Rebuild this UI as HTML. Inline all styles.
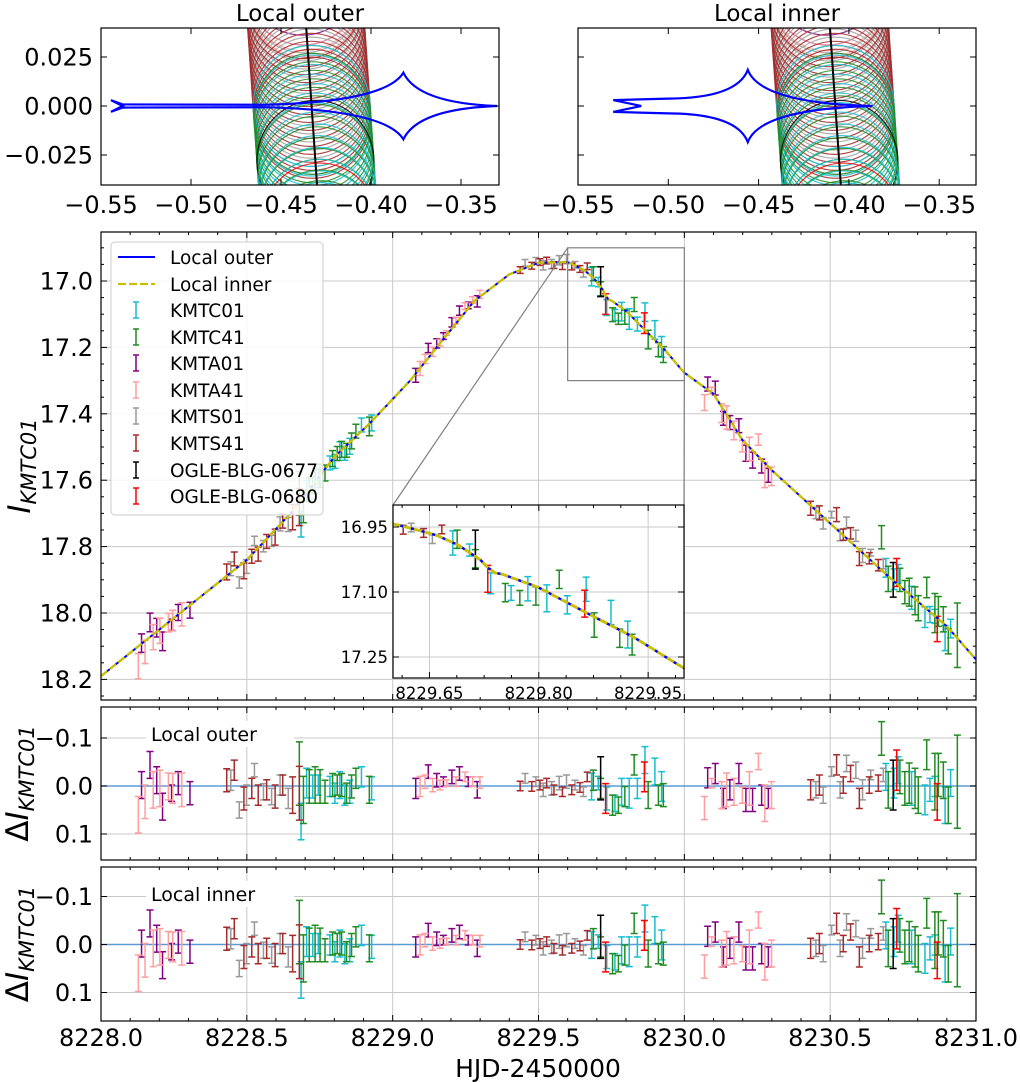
<!DOCTYPE html>
<html><head><meta charset="utf-8"><style>
html,body{margin:0;padding:0;background:#fff}
svg{display:block;font-family:"DejaVu Sans","Liberation Sans",sans-serif}
</style></head><body>
<svg id="fig" width="1020" height="1082" viewBox="0 0 1020 1082" xmlns="http://www.w3.org/2000/svg">
<defs>
<clipPath id="clipL"><rect x="101" y="28" width="398" height="157"/></clipPath>
<clipPath id="clipR"><rect x="578" y="28" width="398" height="157"/></clipPath>
<clipPath id="clipM"><rect x="101" y="232" width="875" height="468"/></clipPath>
<clipPath id="clipI"><rect x="393" y="505" width="291" height="173"/></clipPath>
<clipPath id="clipR1"><rect x="101" y="707" width="875" height="153"/></clipPath>
<clipPath id="clipR2"><rect x="101" y="867" width="875" height="154"/></clipPath>
</defs>
</svg>
<script>
// ---- data ----
const modelT=[8228.0,8228.2,8228.5,8228.65,8228.8,8228.92,8229.06,8229.16,8229.28,8229.4,8229.5,8229.602,8229.658,8229.689,8229.726,8229.734,8229.75,8229.799,8229.863,8229.932,8229.998,8230.1,8230.2,8230.3,8230.5,8230.7,8230.9,8231.0];
const modelM=[18.19,18.05,17.84,17.70,17.53,17.43,17.30,17.19,17.06,16.98,16.945,16.943,16.968,16.991,17.033,17.054,17.059,17.089,17.146,17.206,17.275,17.34,17.48,17.57,17.73,17.89,18.04,18.14];

const c01T=[8228.686,8228.705,8228.726,8228.745,8228.785,8228.802,8228.819,8228.836,8228.853,8228.893,8228.928,8229.682,8229.705,8229.734,8229.762,8229.785,8229.811,8229.839,8229.865,8229.899,8229.922,8230.691,8230.719,8230.733,8230.779,8230.825,8230.842,8230.859,8230.894,8230.913];
const c01R=[0.074,-0.006,0.001,-0.002,0.001,0.015,-0.002,0.019,0.012,-0.019,0.005,0.001,-0.006,0.026,0.036,0.012,0.015,0.005,-0.054,-0.030,0.001,-0.019,-0.006,-0.033,0.005,0.029,0.008,0.001,0.040,-0.006];
const c01E=[0.038,0.031,0.024,0.021,0.021,0.021,0.028,0.021,0.024,0.021,0.024,0.028,0.014,0.024,0.017,0.028,0.031,0.021,0.028,0.028,0.031,0.028,0.031,0.028,0.035,0.031,0.024,0.021,0.038,0.028];

const c41T=[8228.680,8228.694,8228.714,8228.734,8228.751,8228.768,8228.794,8228.810,8228.825,8228.842,8228.859,8228.874,8228.920,8229.688,8229.713,8229.754,8229.774,8229.796,8229.828,8229.876,8229.911,8229.928,8230.676,8230.699,8230.739,8230.756,8230.771,8230.791,8230.802,8230.831,8230.859,8230.871,8230.888,8230.905,8230.936];
const c41R=[-0.026,0.029,0.001,-0.002,0.001,0.012,-0.002,-0.002,-0.002,0.015,0.001,-0.016,0.008,-0.012,0.005,0.040,0.040,0.022,-0.044,0.019,0.019,0.019,-0.099,0.008,-0.019,0.005,-0.006,0.005,0.019,-0.065,-0.009,-0.023,-0.012,0.040,-0.009];
const c41E=[0.066,0.049,0.035,0.038,0.035,0.024,0.024,0.021,0.024,0.021,0.024,0.021,0.028,0.021,0.021,0.021,0.017,0.021,0.021,0.028,0.021,0.024,0.035,0.038,0.035,0.035,0.042,0.042,0.038,0.031,0.059,0.045,0.038,0.038,0.097];

const a01T=[8228.139,8228.168,8228.191,8228.211,8228.242,8228.265,8228.305,8229.079,8229.122,8229.151,8229.174,8229.203,8229.229,8229.259,8229.290,8230.080,8230.106,8230.134,8230.156,8230.187,8230.211,8230.234,8230.265,8230.288];
const a01R=[-0.002,-0.044,-0.012,0.043,0.015,-0.006,0.015,0.005,-0.030,-0.012,-0.009,-0.019,-0.026,-0.009,0.008,-0.017,-0.026,0.026,0.008,-0.026,0.029,0.029,0.019,0.026];
const a01E=[0.028,0.028,0.028,0.028,0.017,0.024,0.024,0.021,0.014,0.014,0.010,0.014,0.014,0.010,0.017,0.021,0.021,0.021,0.021,0.021,0.024,0.024,0.021,0.021];

const a41T=[8228.128,8228.151,8228.179,8228.202,8228.231,8228.246,8228.277,8229.094,8229.111,8229.137,8229.162,8229.185,8229.217,8229.248,8229.274,8229.299,8230.069,8230.094,8230.128,8230.145,8230.170,8230.199,8230.223,8230.254,8230.276,8230.299];
const a41R=[0.060,0.033,0.008,0.005,0.001,0.005,0.008,0.001,-0.009,-0.002,-0.002,-0.006,-0.009,-0.019,-0.009,-0.007,0.046,-0.006,0.019,0.008,0.012,0.019,0.005,-0.051,0.036,0.019];
const a41E=[0.038,0.035,0.038,0.038,0.028,0.031,0.035,0.021,0.014,0.014,0.010,0.007,0.010,0.010,0.010,0.012,0.024,0.010,0.028,0.035,0.028,0.017,0.035,0.017,0.038,0.028];

const s01T=[8228.445,8228.474,8228.499,8228.526,8228.557,8228.585,8228.614,8228.642,8229.454,8229.491,8229.516,8229.545,8229.571,8229.596,8229.625,8229.654,8230.451,8230.476,8230.505,8230.534,8230.556,8230.588,8230.611,8230.639,8230.682];
const s01R=[-0.012,0.050,0.019,-0.033,0.012,0.022,-0.002,0.026,-0.016,-0.009,0.008,0.005,-0.006,-0.009,-0.002,0.012,0.008,0.019,-0.030,0.008,-0.047,-0.033,0.008,-0.023,-0.023];
const s01E=[0.021,0.017,0.021,0.014,0.017,0.017,0.021,0.021,0.010,0.010,0.014,0.014,0.014,0.014,0.010,0.010,0.017,0.017,0.010,0.017,0.017,0.017,0.021,0.010,0.014];

const s41T=[8228.431,8228.457,8228.490,8228.517,8228.539,8228.568,8228.597,8228.623,8228.657,8228.680,8229.437,8229.477,8229.505,8229.528,8229.553,8229.582,8229.614,8229.642,8229.667,8230.433,8230.463,8230.522,8230.545,8230.570,8230.600,8230.634,8230.665];
const s41R=[-0.012,-0.033,0.026,0.005,0.019,0.008,0.022,-0.002,0.019,0.015,0.000,0.001,-0.002,-0.006,0.008,0.012,0.008,0.003,-0.019,0.008,-0.002,-0.044,-0.002,-0.026,0.026,-0.002,-0.006];
const s41E=[0.024,0.021,0.024,0.021,0.021,0.021,0.024,0.021,0.038,0.056,0.010,0.010,0.010,0.010,0.010,0.010,0.010,0.010,0.010,0.021,0.021,0.021,0.017,0.017,0.021,0.017,0.017];

const o77T=[8229.713,8230.716];
const o77R=[-0.016,-0.002];
const o77E=[0.045,0.052];
const o80T=[8229.730,8229.863,8230.728,8230.867];
const o80R=[0.026,-0.019,-0.033,0.033];
const o80E=[0.031,0.031,0.042,0.038];

const dsNames=["KMTC01","KMTC41","KMTA01","KMTA41","KMTS01","KMTS41","OGLE-BLG-0677","OGLE-BLG-0680"];
const dsColors=["#17becf","#228b22","#800080","#ff9e9e","#999999","#a52a2a","#000000","#ff0000"];
const dsT=[c01T,c41T,a01T,a41T,s01T,s41T,o77T,o80T];
const dsR=[c01R,c41R,a01R,a41R,s01R,s41R,o77R,o80R];
const dsE=[c01E,c41E,a01E,a41E,s01E,s41E,o77E,o80E];

const xTicks=[8228.0,8228.5,8229.0,8229.5,8230.0,8230.5,8231.0];
const xTickLabels=["8228.0","8228.5","8229.0","8229.5","8230.0","8230.5","8231.0"];
const yTicks=[17.0,17.2,17.4,17.6,17.8,18.0,18.2];
const yTickLabels=["17.0","17.2","17.4","17.6","17.8","18.0","18.2"];
const insetXTicks=[8229.65,8229.80,8229.95];
const insetXLabels=["8229.65","8229.80","8229.95"];
const insetYTicks=[16.95,17.10,17.25];
const insetYLabels=["16.95","17.10","17.25"];
const resTicks=[-0.1,0.0,0.1];
const resLabels=["\u22120.1","0.0","0.1"];
const topXTicks=[-0.55,-0.50,-0.45,-0.40,-0.35];
const topXLabels=["\u22120.55","\u22120.50","\u22120.45","\u22120.40","\u22120.35"];
const topYTicks=[0.025,0.0,-0.025];
const topYLabels=["0.025","0.000","\u22120.025"];

// source trajectory bands: center-y ranges and colors
const bandY0=[0.072,0.062,0.058,0.055,0.000,-0.004,-0.028,-0.036,-0.040,-0.060];
const bandY1=[0.062,0.056,-0.004,-0.006,-0.034,-0.030,-0.028,-0.080,-0.076,-0.060];
const bandN=[3,3,16,16,8,7,1,9,7,1];
const bandC=["#800080","#ff9e9e","#a0a0a0","#a52a2a","#17becf","#228b22","#000000","#228b22","#17becf","#ff0000"];

// ---- helpers ----
const svg=document.getElementById('fig');
const NS="http://www.w3.org/2000/svg";
function mk(tag,attrs,parent){const e=document.createElementNS(NS,tag);for(const k in attrs)e.setAttribute(k,attrs[k]);(parent||svg).appendChild(e);return e;}
function txt(s,x,y,size,anchor,parent,extra){const e=mk('text',Object.assign({x:x,y:y,'font-size':size,'text-anchor':anchor||'middle',fill:'#000'},extra||{}),parent);e.textContent=s;return e;}
function interp(t){if(t<=modelT[0])return modelM[0];for(let i=1;i<modelT.length;i++){if(t<=modelT[i]){const f=(t-modelT[i-1])/(modelT[i]-modelT[i-1]);return modelM[i-1]+f*(modelM[i]-modelM[i-1]);}}return modelM[modelM.length-1];}

// scales
const X=t=>101+(t-8228)*291.67;
const Y=m=>281+(m-17)*332;
const XI=t=>393+(t-8229.6)*729;
const YI=m=>527+(m-16.95)*433.3;
const YR1=r=>786+r*480;
const YR2=r=>944.5+r*480;
const XL=x=>101+(x+0.55)*1800;
const XRt=x=>578+(x+0.55)*1806;
const YT=y=>106-y*1960;

function frame(x0,y0,w,h,name){const r=mk('rect',{x:x0,y:y0,width:w,height:h,fill:'none',stroke:'#000','stroke-width':1.2});return r;}
function vtick(x,y0,y1,len,g){mk('line',{x1:x,y1:y0,x2:x,y2:y0-len,stroke:'#000','stroke-width':1},g);mk('line',{x1:x,y1:y1,x2:x,y2:y1+len,stroke:'#000','stroke-width':1},g);}
function htick(y,x0,x1,len,g){mk('line',{x1:x0,y1:y,x2:x0+len,y2:y,stroke:'#000','stroke-width':1},g);mk('line',{x1:x1,y1:y,x2:x1-len,y2:y,stroke:'#000','stroke-width':1},g);}

// ---- top panels ----
function causticPath(xs,side){
  const P=(x,y)=>xs(x).toFixed(1)+','+YT(y).toFixed(1);
  let d='';
  if(side==='L'){
    const up=s=>`M${P(-0.5445,0.003*s)}L${P(-0.538,0.0008*s)}L${P(-0.46,0.0006*s)}Q${P(-0.392,0.002*s)} ${P(-0.382,0.017*s)}Q${P(-0.374,0.0015*s)} ${P(-0.330,0)}`;
    d=up(1)+up(-1)+`M${P(-0.5445,0.003)}L${P(-0.538,0)}L${P(-0.5445,-0.003)}`;
  }else{
    const up=s=>`M${P(-0.5305,0.003*s)}L${P(-0.50,0.0038*s)}Q${P(-0.462,0.004*s)} ${P(-0.456,0.0184*s)}Q${P(-0.449,0.0015*s)} ${P(-0.387,0)}`;
    d=up(1)+up(-1)+`M${P(-0.5305,0.003)}L${P(-0.515,0)}L${P(-0.5305,-0.003)}`;
  }
  return d;
}
function topPanel(side){
  const xs=side==='L'?XL:XRt, x0=side==='L'?101:578, clip=side==='L'?'clipL':'clipR';
  const g=mk('g',{});
  
  
  const gc=mk('g',{'clip-path':'url(#'+clip+')'},g);
  const cx0=side==='L'?-0.436:-0.4105, cx1=side==='L'?-0.430:-0.4045;
  const rad=0.0325;
  for(let b=0;b<bandN.length;b++){
    for(let i=0;i<bandN[b];i++){
      const yc=bandN[b]===1?bandY0[b]:bandY0[b]+(bandY1[b]-bandY0[b])*i/(bandN[b]-1);
      const xc=cx0+(cx1-cx0)*(0.04-yc)/0.08;
      const c=mk('ellipse',{cx:xs(xc),cy:YT(yc),rx:rad*(side==='L'?1800:1806),ry:rad*1960*0.95,fill:'none',stroke:bandC[b],'stroke-width':1.2,opacity:0.85},gc);
      
      
    }
  }
  const tr=mk('line',{x1:xs(cx0),y1:YT(0.04),x2:xs(cx1),y2:YT(-0.04),stroke:'#000','stroke-width':2},gc);
  
  
  const cp=mk('path',{d:causticPath(xs,side),fill:'none',stroke:'#0000ff','stroke-width':2.2},gc);
  
  
  frame(x0,28,398,157,'caustic-axes-frame');
  for(let i=0;i<topXTicks.length;i++){const x=xs(topXTicks[i]);vtick(x,185,28,6,g);const t=txt(topXLabels[i],x,213,24,'middle',g);}
  for(let i=0;i<topYTicks.length;i++){const y=YT(topYTicks[i]);htick(y,x0,x0+398,6,g);if(side==='L'){const t=txt(topYLabels[i],93,y+8.5,24,'end',g);}}
  const tt=txt(side==='L'?'Local outer':'Local inner',x0+199,21,23,'middle',g);
  
  
}
topPanel('L');topPanel('R');

// ---- main panel ----
const gm=mk('g',{});


for(const t of xTicks){if(t>8228&&t<8231)mk('line',{x1:X(t),y1:232,x2:X(t),y2:700,stroke:'#c8c8c8','stroke-width':1},gm);}
for(const m of yTicks)mk('line',{x1:101,y1:Y(m),x2:976,y2:Y(m),stroke:'#c8c8c8','stroke-width':1},gm);
function drawData(g,xs,ys,useModel,cap){
  for(let k=0;k<dsT.length;k++){
    for(let i=0;i<dsT[k].length;i++){
      const t=dsT[k][i], v=(useModel?interp(t):0)+dsR[k][i], e=dsE[k][i];
      const x=xs(t), y0=ys(v-e), y1=ys(v+e);
      const eb=mk('path',{d:`M${x},${y0}L${x},${y1}M${x-cap},${y0}L${x+cap},${y0}M${x-cap},${y1}L${x+cap},${y1}`,stroke:dsColors[k],'stroke-width':1.5,fill:'none'},g);
      
      
    }
  }
}
function drawModel(g,xs,ys,w){
  let d='';const N=300;
  for(let i=0;i<=N;i++){const t=8228+3*i/N;d+=(i?'L':'M')+xs(t).toFixed(2)+','+ys(interp(t)).toFixed(2);}
  const b=mk('path',{d:d,fill:'none',stroke:'#0000ff','stroke-width':w},g);
  
  
  const yl=mk('path',{d:d,fill:'none',stroke:'#c8c000','stroke-width':w+0.3,'stroke-dasharray':'8,3'},g);
  
  
}
const gmc=mk('g',{'clip-path':'url(#clipM)'},gm);
drawData(gmc,X,Y,true,3.5);
drawModel(gmc,X,Y,2);
const zr=mk('rect',{x:X(8229.6),y:Y(16.9),width:X(8230.0)-X(8229.6),height:Y(17.3)-Y(16.9),fill:'none',stroke:'#808080','stroke-width':1.2},gm);


mk('line',{x1:393,y1:505,x2:X(8229.6),y2:Y(16.9),stroke:'#808080','stroke-width':1.2},gm);
mk('line',{x1:684,y1:505,x2:X(8230.0),y2:Y(17.3),stroke:'#808080','stroke-width':1.2},gm);
frame(101,232,875,468,'light-curve-frame');
for(let t=8228.0;t<=8231.001;t+=0.1){const x=X(t);const major=Math.abs((t*2)-Math.round(t*2))<1e-6;vtick(x,700,232,major?6:3,gm);}
for(let m=16.9;m<=18.251;m+=0.05){const y=Y(m);const major=Math.abs(m*5-Math.round(m*5))<1e-6;htick(y,101,976,major?6:3,gm);}
for(let i=0;i<yTicks.length;i++){const t=txt(yTickLabels[i],93,Y(yTicks[i])+8.5,24,'end',gm);}
const yl=txt('',0,0,31,'middle',gm,{transform:'translate(30,466) rotate(-90)'});
yl.innerHTML='<tspan font-style="italic">I</tspan><tspan font-size="21" font-style="italic" dy="6">KMTC01</tspan>';



// legend
const lg=mk('g',{});


mk('rect',{x:111,y:242,width:212,height:273,rx:4,fill:'#fff','fill-opacity':0.85,stroke:'#cccccc','stroke-width':1},lg);
const legY=[257,284,310,337,363,390,416,443,470,496];
mk('line',{x1:118,y1:257,x2:155,y2:257,stroke:'#0000ff','stroke-width':2},lg);
mk('line',{x1:118,y1:284,x2:155,y2:284,stroke:'#c8c000','stroke-width':2.3,'stroke-dasharray':'8,3'},lg);
let le=txt('Local outer',170,264,18.5,'start',lg);
le=txt('Local inner',170,291,18.5,'start',lg);
for(let k=0;k<dsNames.length;k++){const y=legY[k+2];mk('path',{d:`M136,${y-8}L136,${y+8}M133,${y-8}L139,${y-8}M133,${y+8}L139,${y+8}`,stroke:dsColors[k],'stroke-width':1.5,fill:'none'},lg);const t=txt(dsNames[k],170,y+7,18.5,'start',lg);}

// inset
const gi=mk('g',{});


mk('rect',{x:393,y:505,width:291,height:173,fill:'#fff'},gi);
for(const t of insetXTicks)mk('line',{x1:XI(t),y1:505,x2:XI(t),y2:678,stroke:'#c8c8c8','stroke-width':1},gi);
for(const m of insetYTicks)mk('line',{x1:393,y1:YI(m),x2:684,y2:YI(m),stroke:'#c8c8c8','stroke-width':1},gi);
const gic=mk('g',{'clip-path':'url(#clipI)'},gi);
drawData(gic,XI,YI,true,3.5);
drawModel(gic,XI,YI,2.5);
frame(393,505,291,173,'inset-frame');
for(let i=-1;i<=11;i++){const t=8229.65+i*0.0375;const x=XI(t);if(x<393||x>684)continue;vtick(x,678,505,i%4===0?6:3,gi);}
for(let i=0;i<insetYTicks.length;i++){const y=YI(insetYTicks[i]);htick(y,393,684,6,gi);const t=txt(insetYLabels[i],388,y+6,16.5,'end',gi);}
for(let i=0;i<insetXTicks.length;i++){const t=txt(insetXLabels[i],XI(insetXTicks[i]),699,16.5,'middle',gi);}

// residual panels
function resPanel(ys,top,h,clip,label,name){
  const g=mk('g',{});
  
  
  for(const t of xTicks){if(t>8228&&t<8231)mk('line',{x1:X(t),y1:top,x2:X(t),y2:top+h,stroke:'#c8c8c8','stroke-width':1},g);}
  mk('line',{x1:101,y1:ys(-0.1),x2:976,y2:ys(-0.1),stroke:'#c8c8c8','stroke-width':1},g);
  mk('line',{x1:101,y1:ys(0.1),x2:976,y2:ys(0.1),stroke:'#c8c8c8','stroke-width':1},g);
  const gc=mk('g',{'clip-path':'url(#'+clip+')'},g);
  const zl=mk('line',{x1:101,y1:ys(0),x2:976,y2:ys(0),stroke:'#5b9bd5','stroke-width':1.5},gc);
  
  
  drawData(gc,X,ys,false,3.5);
  mk('rect',{x:146,y:top+14,width:148,height:26,fill:'#fff'},g);
  const lt=txt(label,151,top+34,19,'start',g);
  
  
  frame(101,top,875,h,'residual-frame');
  for(let t=8228.0;t<=8231.001;t+=0.1){const x=X(t);const major=Math.abs((t*2)-Math.round(t*2))<1e-6;vtick(x,top+h,top,major?6:3,g);}
  for(let i=0;i<resTicks.length;i++){const y=ys(resTicks[i]);htick(y,101,976,6,g);const t=txt(resLabels[i],93,y+8.5,24,'end',g);}
  const yt=txt('',0,0,31,'middle',g,{transform:`translate(28,${top+h/2}) rotate(-90)`});
  yt.innerHTML='\u0394<tspan font-style="italic">I</tspan><tspan font-size="21" font-style="italic" dy="6">KMTC01</tspan>';
  
  
}
resPanel(YR1,707,153,'clipR1','Local outer','residual-panel-local-outer');
resPanel(YR2,867,154,'clipR2','Local inner','residual-panel-local-inner');
for(let i=0;i<xTicks.length;i++){const t=txt(xTickLabels[i],X(xTicks[i]),1046,24,'middle');}
const xt=txt('HJD-2450000',538,1077,25,'middle');


</script>
</body></html>
